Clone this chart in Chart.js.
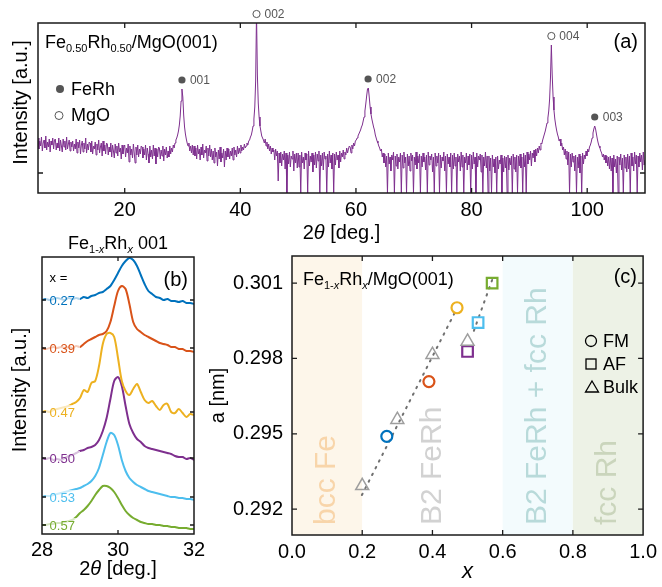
<!DOCTYPE html>
<html><head><meta charset="utf-8">
<script src="https://cdn.jsdelivr.net/npm/chart.js@4.4.1/dist/chart.umd.min.js"></script>
<style>
html,body{margin:0;padding:0;background:#fff;}
body{width:662px;height:587px;position:relative;overflow:hidden;}
canvas{position:absolute;left:0;top:0;}
</style></head><body>
<canvas id="ca" width="662" height="587"></canvas>
<canvas id="cb" width="662" height="587"></canvas>
<canvas id="cc" width="662" height="587"></canvas>
<script>
const FONT = '"Liberation Sans", Arial, Helvetica, sans-serif';

// ---------- Panel (a): XRD scan of Fe0.50Rh0.50/MgO(001) ----------
const aStart = 5, aStep = 0.15;   // 2theta sampling of the trace
const aIntensity = [
55,44,52,47,56,42,50,53,45,57,43,51,46,54,41,52,48,55,44,53,
54,43,50,45,55,42,53,47,41,54,46,52,43,56,44,49,53,42,51,46,
52,42,49,44,54,40,51,45,53,39,48,52,41,50,44,55,40,49,43,51,
50,41,52,39,47,44,51,38,49,43,53,40,46,50,37,52,42,48,39,50,
49,38,46,41,50,36,48,42,35,49,40,47,37,50,41,45,34,48,39,46,
48,36,45,40,49,31,47,38,44,35,49,40,30,46,38,48,36,44,39,47,
46,35,44,38,48,33,45,39,30,47,36,43,34,48,37,45,29,44,36,46,
45,34,43,37,47,32,44,38,46,35,42,36,47,39,45,41,48,45,50,53,
55,58,62,68,77,92,104,96,78,66,59,54,50,47,50,42,47,40,48,38,
47,37,45,34,48,39,44,33,46,38,49,35,43,40,47,32,45,37,48,36,
44,33,42,30,45,36,41,27,43,34,46,31,40,35,44,26,42,33,45,36,
44,34,42,37,45,33,46,38,43,36,47,39,45,40,48,42,46,43,49,45,
47,50,48,52,53,56,58,62,67,74,86,112,180,118,90,76,67,62,57,55,
53,50,54,47,51,44,49,42,47,39,45,41,43,33,44,37,42,12,40,30,
41,27,39,33,42,24,40,0,38,29,41,26,37,34,42,22,39,30,40,25,
40,26,38,0,41,30,36,24,40,33,39,0,42,27,37,31,40,21,38,28,
41,25,39,32,42,0,38,27,40,23,41,34,37,0,39,26,42,30,38,24,
40,0,39,28,41,33,38,25,42,31,40,36,43,34,41,38,45,40,44,47,
46,40,48,44,50,47,52,53,55,57,59,61,63,66,68,72,76,82,89,97,
104,105,96,86,79,74,70,66,63,58,55,52,50,47,45,42,44,36,40,30,
39,26,37,0,40,29,36,22,38,33,41,0,37,27,39,24,36,31,40,0,
38,25,41,30,36,0,39,27,37,22,40,32,38,0,36,28,41,24,37,30,
39,0,37,26,40,31,36,23,38,0,41,28,37,33,39,21,36,0,40,27,
37,30,40,0,38,25,36,32,41,22,37,0,39,29,36,26,40,0,38,24,
40,27,36,0,39,31,37,22,41,26,38,0,36,30,40,23,37,28,39,0,
38,24,41,29,36,0,40,26,37,33,39,21,38,0,36,27,41,25,37,0,
37,22,35,0,38,26,34,20,36,0,37,24,33,29,38,0,35,21,37,25,
36,0,38,23,35,28,37,0,39,24,36,21,38,0,37,27,39,25,36,0,
40,26,38,0,41,29,39,33,42,27,40,35,43,31,44,37,45,40,47,43,
50,49,53,56,59,62,66,70,75,82,94,115,148,118,96,83,74,68,63,59,
56,52,54,47,50,43,46,38,44,34,42,28,41,0,39,26,40,31,37,22,
38,0,36,25,39,20,37,0,40,29,38,34,42,37,44,41,46,48,51,55,
60,64,67,64,59,54,50,47,45,42,40,36,39,33,38,30,37,27,36,24,
37,22,35,0,38,26,34,20,37,0,36,28,39,23,35,0,38,25,36,21,
39,24,37,0,40,27,36,22,41,29,38,0,37,26,40,31,38,23,41,28,
33
];
const aTicks = [20, 40, 60, 80, 100];
const aYTicks = [20];
const aPeakPos = [29.9, 42.8, 62.1, 93.8, 101.3];
const aPeakHkl = ['001', '002', '002', '004', '003'];
const aPeakPhase = ['FeRh', 'MgO', 'FeRh', 'MgO', 'FeRh'];

// ---------- Panel (b): Fe1-xRhx 001 peaks (offset, a.u.) ----------
const bStart = 28, bStep = 0.1;
const bTicks = [28, 30, 32];
const bCompositions = ['0.27', '0.39', '0.47', '0.50', '0.53', '0.57'];
const bColors = ['#0072bd', '#d95319', '#edb120', '#7e2f8e', '#4dbeee', '#77ac30'];
const bInt027 = [234,235,234,235,236,235,234,236,235,236,235,237,236,238,239,241,242,245,248,254,261,268,273,276,274,268,259,250,243,240,237,236,234,235,233,233,232,233,231,231,230];
const bInt039 = [186,185,186,187,186,187,186,187,186,188,187,190,193,195,197,199,200,203,212,228,243,248,245,230,212,205,202,199,197,195,193,191,190,189,187,187,185,185,183,183,182];
const bInt047 = [122,123,122,124,125,126,127,128,130,132,136,144,142,151,153,168,190,200,201,197,176,153,143,139,145,150,142,134,131,133,128,124,129,130,122,121,125,121,117,120,119];
const bInt050 = [76,75,76,74,75,74,76,78,79,81,83,84,86,87,89,94,103,116,135,153,157,148,128,110,101,95,92,88,86,85,84,83,82,81,80,78,77,77,75,76,74];
const bInt053 = [37,38,38,39,40,41,42,43,44,45,46,48,50,53,58,66,79,92,101,99,89,74,63,56,52,49,47,45,43,42,41,40,39,38,37,37,36,36,35,35,34];
const bInt057 = [9,9,10,10,11,11,12,13,14,17,21,24,28,33,39,44,48,48,46,42,36,29,23,19,16,14,12,11,10,10,9,9,8,8,7,7,6,6,6,5,5];
const bSeries = [bInt027, bInt039, bInt047, bInt050, bInt053, bInt057];

// ---------- Panel (c): lattice parameter vs x ----------
const cFmX = [0.27, 0.39, 0.47];
const cFmA = [0.2949, 0.29708, 0.30002];
const cFmColors = ['#0072bd', '#d95319', '#edb120'];
const cAfX = [0.50, 0.53, 0.57];
const cAfA = [0.29828, 0.29943, 0.30100];
const cAfColors = ['#7e2f8e', '#4dbeee', '#77ac30'];
const cBulkX = [0.20, 0.30, 0.40, 0.50];
const cBulkA = [0.29293, 0.29556, 0.29815, 0.29868];
const cFit1X = [0.199, 0.47];
const cFit1A = [0.29256, 0.30000];
const cFit2X = [0.518, 0.572];
const cFit2A = [0.29910, 0.30120];
const cXTicks = [0, 0.2, 0.4, 0.6, 0.8, 1.0];
const cYTicks = [0.292, 0.295, 0.298, 0.301];
const cRegionFrom = [0, 0.2, 0.6, 0.8];
const cRegionTo = [0.2, 0.6, 0.8, 1.0];
const cRegionNames = ['bcc Fe', 'B2 FeRh', 'B2 FeRh + fcc Rh', 'fcc Rh'];
const cRegionBg = ['#fdf6ea', '#ffffff', '#f3fbfd', '#edf2e6'];
const cRegionText = ['#f8d5aa', '#d2d2d2', '#b8dada', '#cad5bc'];

// ---------- helpers ----------
function font(size, italic) { return (italic ? 'italic ' : '') + size + 'px ' + FONT; }
function richText(ctx, x, y, parts, align, color) {
  let w = 0;
  parts.forEach(p => { ctx.font = font(p[1], p[2]); w += ctx.measureText(p[0]).width; });
  let cx = align === 'center' ? x - w / 2 : (align === 'right' ? x - w : x);
  ctx.textAlign = 'left'; ctx.textBaseline = 'alphabetic'; ctx.fillStyle = color || '#000';
  parts.forEach(p => { ctx.font = font(p[1], p[2]); ctx.fillText(p[0], cx, y + (p[3] || 0)); cx += ctx.measureText(p[0]).width; });
}
function drawFrame(chart, tl) {
  const {ctx, chartArea: a, scales: {x, y}} = chart;
  ctx.save();
  ctx.strokeStyle = '#1a1a1a'; ctx.lineWidth = 1.3;
  ctx.beginPath();
  x.ticks.forEach(t => { const p = x.getPixelForValue(t.value);
    if (p > a.left + 2 && p < a.right - 2) { ctx.moveTo(p, a.bottom); ctx.lineTo(p, a.bottom - tl); ctx.moveTo(p, a.top); ctx.lineTo(p, a.top + tl); } });
  y.ticks.forEach(t => { const p = y.getPixelForValue(t.value);
    if (p > a.top + 2 && p < a.bottom - 2) { ctx.moveTo(a.left, p); ctx.lineTo(a.left + tl, p); ctx.moveTo(a.right, p); ctx.lineTo(a.right - tl, p); } });
  ctx.stroke();
  ctx.lineWidth = 1.5;
  ctx.strokeRect(a.left, a.top, a.right - a.left, a.bottom - a.top);
  ctx.restore();
}
function thetaTitle(ctx, cx, y) {
  richText(ctx, cx, y, [['2', 20], ['\u03B8', 20, true], [' [deg.]', 20]], 'center');
}
const baseTicks = {font: {family: FONT, size: 20}, color: '#000', autoSkip: false, maxRotation: 0};

// ---------- Chart (a) ----------
const aData = aIntensity.map((v, i) => ({x: aStart + i * aStep, y: v}));
new Chart(document.getElementById('ca'), {
  type: 'line',
  data: {datasets: [{data: aData, borderColor: '#7e2f8e', borderWidth: 1, pointRadius: 0, tension: 0}]},
  options: {
    responsive: false, animation: false, devicePixelRatio: 1,
    layout: {padding: {left: 0, top: 23, right: 17, bottom: 344}},
    plugins: {legend: {display: false}, tooltip: {enabled: false}},
    scales: {
      x: {type: 'linear', min: 5, max: 110,
        afterBuildTicks: s => { s.ticks = aTicks.map(v => ({value: v})); },
        afterFit: s => { s.height = 50; },
        grid: {display: false, drawTicks: false}, border: {display: false},
        ticks: Object.assign({}, baseTicks, {padding: 5})},
      y: {type: 'linear', min: 0, max: 170,
        afterBuildTicks: s => { s.ticks = aYTicks.map(v => ({value: v})); },
        afterFit: s => { s.width = 38; },
        grid: {display: false, drawTicks: false}, border: {display: false},
        ticks: {display: false},
        title: {display: true, text: '  Intensity [a.u.]', font: {family: FONT, size: 20}, color: '#000', padding: {top: 9, bottom: 0}}}
    }
  },
  plugins: [{
    id: 'decoA',
    afterDraw(chart) {
      const {ctx, chartArea: a, scales: {x, y}} = chart;
      drawFrame(chart, 5);
      ctx.save();
      aPeakPos.forEach((pos, k) => {
        let top = 0;
        aData.forEach(d => { if (Math.abs(d.x - pos) < 0.5 && d.y > top) top = d.y; });
        const px = x.getPixelForValue(pos);
        const py = Math.max(y.getPixelForValue(top), a.top) - 9;
        ctx.beginPath(); ctx.arc(px, py, 3.6, 0, Math.PI * 2);
        if (aPeakPhase[k] === 'FeRh') { ctx.fillStyle = '#555'; ctx.fill(); }
        else { ctx.strokeStyle = '#555'; ctx.lineWidth = 1; ctx.stroke(); }
        ctx.fillStyle = '#555'; ctx.font = font(12); ctx.textAlign = 'left'; ctx.textBaseline = 'middle';
        ctx.fillText(aPeakHkl[k], px + 8, py + 1);
      });
      ctx.beginPath(); ctx.arc(60, 89, 4, 0, Math.PI * 2); ctx.fillStyle = '#555'; ctx.fill();
      ctx.beginPath(); ctx.arc(59, 115.5, 4, 0, Math.PI * 2); ctx.strokeStyle = '#555'; ctx.lineWidth = 1; ctx.stroke();
      ctx.fillStyle = '#000'; ctx.font = font(18); ctx.textAlign = 'left'; ctx.textBaseline = 'middle';
      ctx.fillText('FeRh', 71, 90); ctx.fillText('MgO', 71, 116);
      richText(ctx, 45, 48, [['Fe', 18], ['0.50', 11, false, 4], ['Rh', 18], ['0.50', 11, false, 4], ['/MgO(001)', 18]], 'left');
      ctx.font = font(20); ctx.textAlign = 'right'; ctx.textBaseline = 'middle'; ctx.fillStyle = '#000';
      ctx.fillText('(a)', 638, 42);
      thetaTitle(ctx, (a.left + a.right) / 2, 239);
      ctx.restore();
    }
  }]
});

// ---------- Chart (b) ----------
new Chart(document.getElementById('cb'), {
  type: 'line',
  data: {datasets: bSeries.map((s, k) => ({
    data: s.map((v, i) => ({x: bStart + i * bStep, y: v})),
    borderColor: bColors[k], borderWidth: 2, pointRadius: 0, tension: 0.3
  }))},
  options: {
    responsive: false, animation: false, devicePixelRatio: 1,
    layout: {padding: {left: 0, top: 257, right: 468, bottom: 3}},
    plugins: {legend: {display: false}, tooltip: {enabled: false}},
    scales: {
      x: {type: 'linear', min: 28, max: 32,
        afterBuildTicks: s => { s.ticks = bTicks.map(v => ({value: v})); },
        afterFit: s => { s.height = 50; },
        grid: {display: false, drawTicks: false}, border: {display: false},
        ticks: Object.assign({}, baseTicks, {padding: 4})},
      y: {type: 'linear', min: 0, max: 277,
        afterBuildTicks: s => { s.ticks = bSeries.map(v => ({value: v[0]})); },
        afterFit: s => { s.width = 42; },
        grid: {display: false, drawTicks: false}, border: {display: false},
        ticks: {display: false},
        title: {display: true, text: '  Intensity [a.u.]', font: {family: FONT, size: 20}, color: '#000', padding: {top: 8, bottom: 0}}}
    }
  },
  plugins: [{
    id: 'decoB',
    afterDatasetsDraw(chart) {
      const {ctx, scales: {x, y}} = chart;
      ctx.save();
      const x0 = x.getPixelForValue(28.1), x1 = x.getPixelForValue(29.0);
      bSeries.forEach((s, k) => {
        const py = y.getPixelForValue(s[0]);
        ctx.fillStyle = 'rgba(255,255,255,0.7)';
        ctx.fillRect(x0, py - 7, x1 - x0, 14);
        ctx.fillStyle = bColors[k]; ctx.font = font(13); ctx.textAlign = 'left'; ctx.textBaseline = 'middle';
        ctx.fillText(bCompositions[k], x.getPixelForValue(28.2), py + 1);
      });
      ctx.fillStyle = '#000'; ctx.font = font(13); ctx.textAlign = 'left'; ctx.textBaseline = 'middle';
      ctx.fillText('x =', x.getPixelForValue(28.2), y.getPixelForValue(bSeries[0][0]) - 22);
      ctx.restore();
    },
    afterDraw(chart) {
      const {ctx, chartArea: a} = chart;
      drawFrame(chart, 4);
      ctx.save();
      richText(ctx, (a.left + a.right) / 2, 249, [['Fe', 18], ['1-', 11, false, 4], ['x', 11, true, 4], ['Rh', 18], ['x', 11, true, 4], [' 001', 18]], 'center');
      ctx.font = font(20); ctx.textAlign = 'right'; ctx.textBaseline = 'middle'; ctx.fillStyle = '#000';
      ctx.fillText('(b)', 188, 280);
      thetaTitle(ctx, (a.left + a.right) / 2, 575);
      ctx.restore();
    }
  }]
});

// ---------- Chart (c) ----------
const mk = (xs, ys) => xs.map((v, i) => ({x: v, y: ys[i]}));
new Chart(document.getElementById('cc'), {
  type: 'scatter',
  data: {datasets: [
    {data: mk(cBulkX, cBulkA), pointStyle: 'triangle', pointRadius: 7.5, borderColor: '#9e9e9e', backgroundColor: 'rgba(0,0,0,0)', pointBorderWidth: 1.5, order: 0},
    {data: mk(cFmX, cFmA), pointStyle: 'circle', pointRadius: 5.5, borderColor: cFmColors, pointBorderColor: cFmColors, backgroundColor: 'rgba(0,0,0,0)', pointBorderWidth: 2.2, order: 1},
    {data: mk(cAfX, cAfA), pointStyle: 'rect', pointRadius: 7.5, borderColor: cAfColors, pointBorderColor: cAfColors, backgroundColor: 'rgba(0,0,0,0)', pointBorderWidth: 2.2, order: 1},
    {data: mk(cFit1X, cFit1A), showLine: true, pointRadius: 0, borderColor: '#707070', borderWidth: 2, borderDash: [1.5, 6], borderCapStyle: 'round', order: 3},
    {data: mk(cFit2X, cFit2A), showLine: true, pointRadius: 0, borderColor: '#707070', borderWidth: 2, borderDash: [1.5, 6], borderCapStyle: 'round', order: 3}
  ]},
  options: {
    responsive: false, animation: false, devicePixelRatio: 1,
    layout: {padding: {left: 202, top: 256, right: 15, bottom: 2}},
    plugins: {legend: {display: false}, tooltip: {enabled: false}},
    scales: {
      x: {type: 'linear', min: 0, max: 1,
        afterBuildTicks: s => { s.ticks = cXTicks.map(v => ({value: v})); },
        afterFit: s => { s.height = 50; },
        grid: {display: false, drawTicks: false}, border: {display: false},
        ticks: Object.assign({}, baseTicks, {padding: 5, callback: v => Number(v).toFixed(1)}),
        title: {display: true, text: 'x', font: {family: FONT, size: 22, style: 'italic'}, color: '#000', padding: {top: 0, bottom: 0}}},
      y: {type: 'linear', min: 0.29097, max: 0.30208,
        afterBuildTicks: s => { s.ticks = cYTicks.map(v => ({value: v})); },
        afterFit: s => { s.width = 90; },
        grid: {display: false, drawTicks: false}, border: {display: false},
        ticks: Object.assign({}, baseTicks, {padding: 9, callback: v => Number(v).toFixed(3)}),
        title: {display: true, text: 'a [nm]', font: {family: FONT, size: 20}, color: '#000', padding: {top: 4, bottom: 0}}}
    }
  },
  plugins: [{
    id: 'decoC',
    beforeDatasetsDraw(chart) {
      const {ctx, chartArea: a, scales: {x}} = chart;
      ctx.save();
      cRegionFrom.forEach((f, k) => {
        const l = x.getPixelForValue(f), r = x.getPixelForValue(cRegionTo[k]);
        ctx.fillStyle = cRegionBg[k];
        ctx.fillRect(l, a.top, r - l, a.bottom - a.top);
      });
      cRegionFrom.forEach((f, k) => {
        const cx = x.getPixelForValue((f + cRegionTo[k]) / 2);
        ctx.save();
        ctx.translate(cx, a.bottom - 10);
        ctx.rotate(-Math.PI / 2);
        ctx.fillStyle = cRegionText[k]; ctx.font = font(30);
        ctx.textAlign = 'left'; ctx.textBaseline = 'middle';
        ctx.fillText(cRegionNames[k], 0, 0);
        ctx.restore();
      });
      richText(ctx, 303, 285, [['Fe', 18], ['1-', 11, false, 4], ['x', 11, true, 4], ['Rh', 18], ['x', 11, true, 4], ['/MgO(001)', 18]], 'left');
      ctx.font = font(20); ctx.textAlign = 'right'; ctx.textBaseline = 'middle'; ctx.fillStyle = '#000';
      ctx.fillText('(c)', 637, 277);
      ctx.restore();
    },
    afterDraw(chart) {
      const {ctx} = chart;
      drawFrame(chart, 5);
      ctx.save();
      ctx.strokeStyle = '#000'; ctx.lineWidth = 1.3;
      ctx.beginPath(); ctx.arc(591, 341, 5.5, 0, Math.PI * 2); ctx.stroke();
      ctx.strokeRect(586, 359, 10, 10);
      ctx.beginPath(); ctx.moveTo(592, 381); ctx.lineTo(598.5, 392); ctx.lineTo(585.5, 392); ctx.closePath(); ctx.stroke();
      ctx.fillStyle = '#000'; ctx.font = font(18); ctx.textAlign = 'left'; ctx.textBaseline = 'middle';
      ctx.fillText('FM', 603, 342); ctx.fillText('AF', 603, 365); ctx.fillText('Bulk', 603, 388);
      ctx.restore();
    }
  }]
});
</script>
</body></html>
